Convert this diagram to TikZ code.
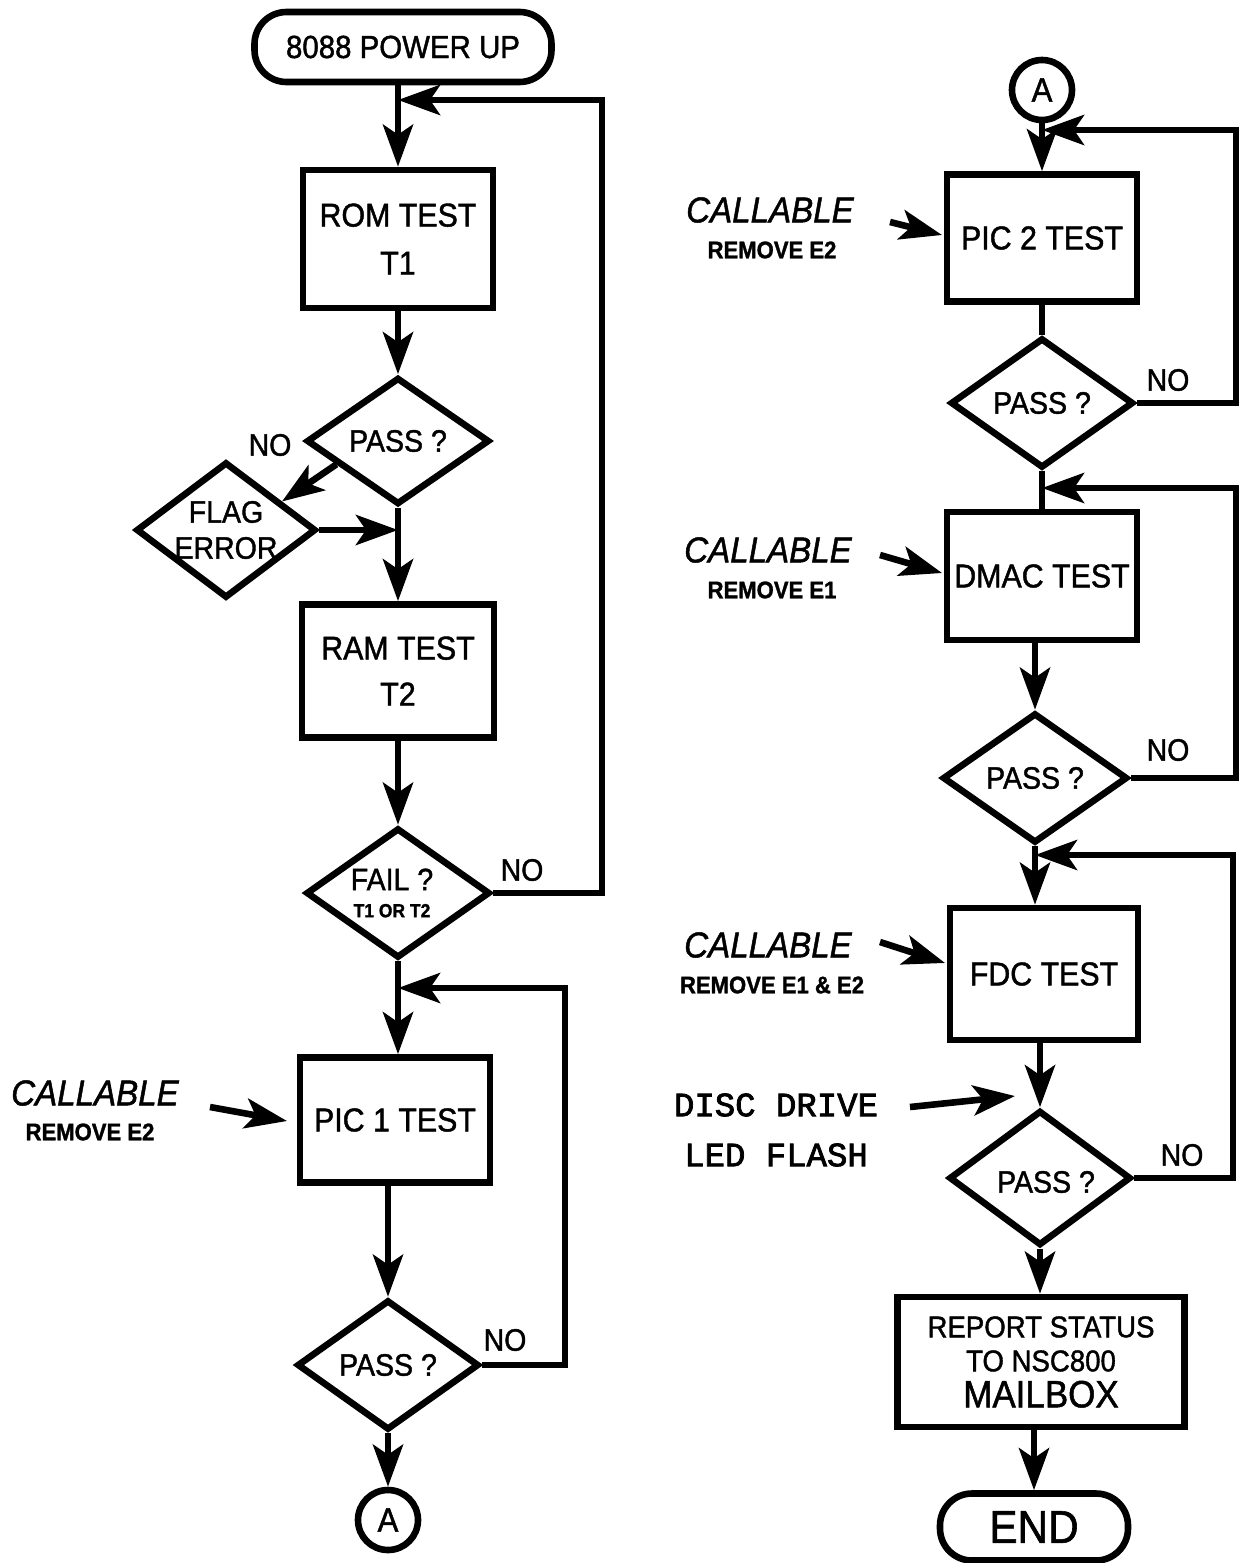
\documentclass[tikz,border=0pt]{standalone}
\usepackage{fontspec}
\setmainfont{Liberation Sans}[FakeStretch=0.92,FakeBold=1.3]
\newfontfamily\discfont{Liberation Mono}[FakeBold=2.2]
\usetikzlibrary{arrows.meta,shapes.geometric,calc}
\tikzset{
  ln/.style={line width=3.3pt},
  arr/.style={line width=3.3pt,-{Stealth[length=21pt,width=15pt,inset=5pt]}},
  box/.style={draw,line width=3.3pt,rectangle,inner sep=0pt,align=center,font=\fontsize{16.5}{19}\selectfont},
  dia/.style={draw,line width=3.3pt,diamond,inner sep=0pt},
  diatext/.style={font=\fontsize{15.5}{18}\selectfont,align=center,inner sep=0pt},
  term/.style={draw,line width=3.3pt,rectangle,rounded corners=16pt,inner sep=0pt},
  nolbl/.style={font=\fontsize{15.5}{18}\selectfont,inner sep=0pt},
  caltxt/.style={font=\fontsize{18}{20}\selectfont\itshape,inner sep=0pt},
  remtxt/.style={font=\fontsize{12}{14}\selectfont\bfseries,inner sep=0pt},
  conn/.style={draw,line width=3.3pt,circle,inner sep=0pt,minimum size=30pt,font=\fontsize{17}{19}\selectfont},
}
\begin{document}
\begin{tikzpicture}[x=0.5pt,y=-0.5pt]
\useasboundingbox (0,0) rectangle (1240,1563);

% ---------- left column ----------
\node[term,minimum width=148.5pt,minimum height=35pt,font=\fontsize{16}{19}\selectfont] (pu) at (403,47) {8088 POWER UP};
\coordinate (j1) at (398,100);
\coordinate (c1) at (602,100);
\node[box,minimum width=95pt,minimum height=69pt] (rom) at (398,239) {ROM TEST\\[5pt]T1};
\node[dia,minimum width=91.5pt,minimum height=63.5pt,label={[diatext]center:PASS ?}] (pass1) at (398,441) {};
\node[nolbl] (no1) at (270,445) {NO};
\node[dia,minimum width=90pt,minimum height=68pt,label={[diatext]center:FLAG\\ERROR}] (flag) at (226,530) {};
\node[box,minimum width=96pt,minimum height=66.5pt] (ram) at (398,671) {RAM TEST\\[4pt]T2};
\node[dia,minimum width=92pt,minimum height=65pt,label={[diatext,font=\fontsize{15.5}{13.5}\selectfont,xshift=-3pt]center:FAIL ?\\{\fontsize{9.5}{11}\selectfont\bfseries T1 OR T2}}] (fail) at (398,893) {};
\node[nolbl] (no2) at (522,870) {NO};
\coordinate (j2) at (398,988);
\coordinate (c2) at (565,988);
\node[box,minimum width=95pt,minimum height=62.5pt] (pic1) at (395,1120) {PIC 1 TEST};
\node[caltxt] (cal1) at (95,1093) {CALLABLE};
\node[remtxt] (rem1) at (90,1132) {REMOVE E2};
\coordinate (a1s) at (210,1107);
\coordinate (a1e) at (287,1121);
\node[dia,minimum width=91pt,minimum height=65pt,label={[diatext]center:PASS ?}] (pass3) at (388,1365) {};
\node[nolbl] (no3) at (505,1340) {NO};
\node[conn] (A1) at (388,1520) {A};

\draw[arr] (pu.south -| rom.north) -- (rom.north);
\draw[arr] (rom.south) -- (pass1.north);
\draw[arr] ($(pass1.west)!0.35!(pass1.south)$) -- ($(flag.north)!0.6!(flag.east)$);
\draw[arr] (flag.east) -- (flag.east -| pass1.south);
\draw[arr] (pass1.south) -- (ram.north);
\draw[arr] (ram.south) -- (fail.north);
\draw[arr] (fail.east) -| (c1) -- (j1);
\draw[arr] (fail.south) -- (fail.south |- pic1.north);
\draw[arr] (a1s) -- (a1e);
\draw[arr] (pic1.south -| pass3.north) -- (pass3.north);
\draw[arr] (pass3.east) -| (c2) -- (j2);
\draw[arr] (pass3.south) -- (A1.north);

% ---------- right column ----------
\node[conn] (A2) at (1042,90) {A};
\coordinate (j3) at (1042,130);
\coordinate (c5) at (1236,130);
\node[box,minimum width=95pt,minimum height=63.5pt] (pic2) at (1042,238) {PIC 2 TEST};
\node[caltxt] (cal2) at (770,210) {CALLABLE};
\node[remtxt] (rem2) at (772,250) {REMOVE E2};
\coordinate (a2s) at (890,222);
\coordinate (a2e) at (942,235);
\node[dia,minimum width=91.5pt,minimum height=65pt,label={[diatext]center:PASS ?}] (pass4) at (1042,403) {};
\node[nolbl] (no4) at (1168,380) {NO};
\coordinate (j4) at (1042,488);
\coordinate (c6) at (1236,488);
\node[box,minimum width=95pt,minimum height=64pt] (dmac) at (1042,576) {DMAC TEST};
\node[caltxt] (cal3) at (768,550) {CALLABLE};
\node[remtxt] (rem3) at (772,590) {REMOVE E1};
\coordinate (a3s) at (880,555);
\coordinate (a3e) at (942,573);
\node[dia,minimum width=92.5pt,minimum height=65pt,label={[diatext]center:PASS ?}] (pass5) at (1035,778) {};
\node[nolbl] (no5) at (1168,750) {NO};
\coordinate (j5) at (1035,855);
\coordinate (c7) at (1233,855);
\node[box,minimum width=94pt,minimum height=66pt] (fdc) at (1044,974) {FDC TEST};
\node[caltxt] (cal4) at (768,945) {CALLABLE};
\node[remtxt] (rem4) at (772,985) {REMOVE E1 \& E2};
\coordinate (a4s) at (880,942);
\coordinate (a4e) at (945,963);
\node[font=\fontsize{17}{25}\selectfont\discfont,align=center,inner sep=0pt] (disc) at (776,1130) {DISC DRIVE\\LED FLASH};
\coordinate (a5s) at (910,1107);
\coordinate (a5e) at (1015,1096);
\node[dia,minimum width=91pt,minimum height=67.5pt,label={[diatext,xshift=3pt,yshift=-2pt]center:PASS ?}] (pass6) at (1040,1178) {};
\node[nolbl] (no6) at (1182,1155) {NO};
\node[box,minimum width=143.5pt,minimum height=65pt,font=\fontsize{15}{17}\selectfont] (rep) at (1041,1362) {REPORT STATUS\\TO NSC800\\[1pt]{\fontsize{19}{17}\selectfont MAILBOX}};
\node[term,minimum width=94pt,minimum height=33.5pt,font=\fontsize{23}{25}\selectfont] (end) at (1034,1527) {END};

\draw[arr] (A2.south) -- (pic2.north);
\draw[arr] (a2s) -- (a2e);
\draw[ln] (pic2.south) -- (pass4.north);
\draw[arr] (pass4.east) -| (c5) -- (j3);
\draw[ln] (pass4.south) -- (dmac.north);
\draw[arr] (a3s) -- (a3e);
\draw[arr] (dmac.south -| pass5.north) -- (pass5.north);
\draw[arr] (pass5.east) -| (c6) -- (j4);
\draw[arr] (pass5.south) -- (pass5.south |- fdc.north);
\draw[arr] (a4s) -- (a4e);
\draw[arr] (fdc.south -| pass6.north) -- (pass6.north);
\draw[arr] (a5s) -- (a5e);
\draw[arr] (pass6.east) -| (c7) -- (j5);
\draw[arr] (pass6.south) -- (pass6.south |- rep.north);
\draw[arr] (rep.south -| end.north) -- (end.north);
\end{tikzpicture}
\end{document}
